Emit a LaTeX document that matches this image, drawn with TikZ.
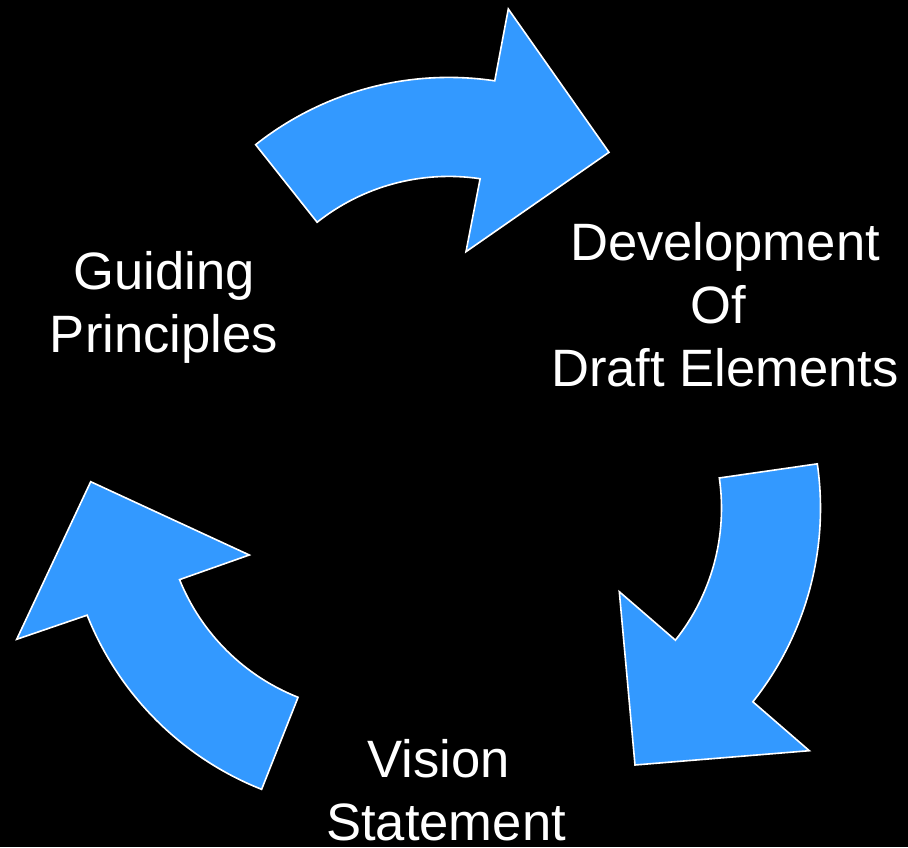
\documentclass[tikz,border=0pt]{standalone}
\usepackage{fontspec}
\setmainfont{Liberation Sans}
\definecolor{arrowblue}{RGB}{51,153,255}
\begin{document}
\begin{tikzpicture}[x=1pt,y=1pt,
  cyclearrow/.style={fill=arrowblue,draw=white,line width=1.6pt,line join=miter},
  lbl/.style={text=white,anchor=base,inner sep=0pt,font=\fontsize{52.6}{63}\selectfont}]
\fill[black] (0,0) rectangle (908,847);
\useasboundingbox (0,0) rectangle (908,847);
% top arrow
\begin{scope}[shift={(448.8,458.6)}]
\draw[cyclearrow] (128.4:311) arc[start angle=128.4,end angle=81.5,radius=311pt]
  -- (59.5,379.4) -- (160.2,236.1) -- (17.2,136.7)
  -- (81.5:212) arc[start angle=81.5,end angle=128.4,radius=212pt] -- cycle;
\end{scope}
% right arrow
\begin{scope}[shift={(509.5,338.8)}]
\draw[cyclearrow] (8.2:311) arc[start angle=8.2,end angle=-38.5,radius=311pt]
  -- (299.8,-242.5) -- (125.5,-256.8) -- (109.8,-83.5)
  -- (-38.5:212) arc[start angle=-38.5,end angle=8.2,radius=212pt] -- cycle;
\end{scope}
% left arrow
\begin{scope}[shift={(376.1,346.8)}]
\draw[cyclearrow] (201.7:311) arc[start angle=201.7,end angle=248.4,radius=311pt]
  -- (248.4:212) arc[start angle=248.4,end angle=202,radius=212pt]
  -- (-126.8,-54.8) -- (-285.4,18.5) -- (-359.4,-139.1) -- cycle;
\end{scope}
% labels
\node[lbl] (dev1) at (725,586) {Development};
\node[lbl] (dev2) at (718,523) {Of};
\node[lbl] (dev3) at (725,460) {Draft Elements};
\node[lbl] (gp1) at (164,557) {Guiding};
\node[lbl] (gp2) at (164,494) {Principles};
\node[lbl] (vs1) at (439,70) {Vision};
\node[lbl] (vs2) at (446,7) {Statement};
\end{tikzpicture}
\end{document}
